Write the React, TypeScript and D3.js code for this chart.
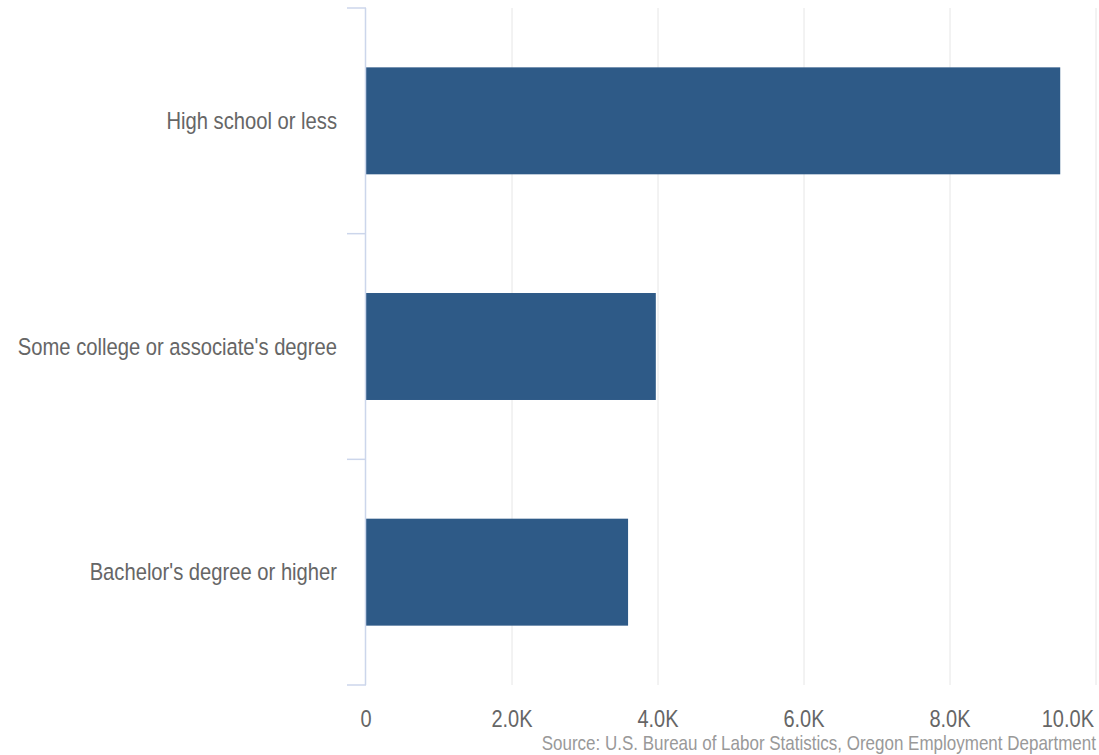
import React from "react";
import * as d3 from "d3";

const categories = ["High school or less", "Some college or associate's degree", "Bachelor's degree or higher"];
const values = [9510, 3970, 3590];
const tickValues = [0, 2000, 4000, 6000, 8000, 10000];
const tickLabels = ["0", "2.0K", "4.0K", "6.0K", "8.0K", "10.0K"];
const sourceText = "Source: U.S. Bureau of Labor Statistics, Oregon Employment Department";

export default function App() {
  const W = 1099, H = 755;
  const x = d3.scaleLinear().domain([0, 10000]).range([366, 1096]);
  const y = d3.scaleBand().domain(categories).range([8, 685]).paddingInner(0.526).paddingOuter(0.263);
  const boundaries = d3.range(categories.length + 1).map((i) => 8 + i * (677 / categories.length));
  const font = "'Liberation Sans', Arial, sans-serif";
  return (
    <svg width={W} height={H} style={{ position: "absolute", left: 0, top: 0, background: "#fff" }}>
      {tickValues.slice(1).map((t) => (
        <line key={t} x1={x(t)} x2={x(t)} y1={8} y2={685} stroke="#e6e6e6" strokeWidth={1} />
      ))}
      {categories.map((c, i) => (
        <rect key={c} x={x(0)} y={y(c)} width={x(values[i]) - x(0)} height={y.bandwidth()} fill="#2e5a87" />
      ))}
      <line x1={365.5} x2={365.5} y1={8} y2={685} stroke="#ccd6eb" strokeWidth={1.5} />
      {boundaries.map((b, i) => (
        <line key={i} x1={347} x2={366} y1={b} y2={b} stroke="#ccd6eb" strokeWidth={1.5} />
      ))}
      {categories.map((c) => (
        <g key={c} transform={`translate(337,${(y(c) as number) + y.bandwidth() / 2 + 8}) scale(1,1.22)`}>
          <text textAnchor="end" fontFamily={font} fontSize={20.2} fill="#666666">{c}</text>
        </g>
      ))}
      {tickValues.map((t, i) => (
        <g key={t} transform={`translate(${i === tickValues.length - 1 ? 1094 : x(t)},727) scale(1,1.2)`}>
          <text textAnchor={i === tickValues.length - 1 ? "end" : "middle"} fontFamily={font} fontSize={20} fill="#666666">{tickLabels[i]}</text>
        </g>
      ))}
      <g transform={`translate(1096,750) scale(1,1.2)`}>
        <text textAnchor="end" fontFamily={font} fontSize={17} fill="#999999">{sourceText}</text>
      </g>
    </svg>
  );
}
